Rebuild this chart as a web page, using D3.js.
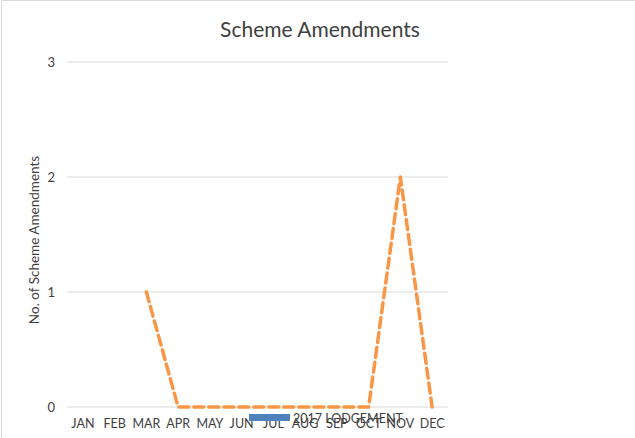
<!DOCTYPE html>
<html>
<head>
<meta charset="utf-8">
<script src="https://cdn.jsdelivr.net/npm/d3@7"></script>
<style>
  html, body { margin: 0; padding: 0; background: #fff; }
  svg { display: block; font-family: Lato, "Open Sans", sans-serif; }
</style>
</head>
<body>
<svg id="chart" width="635" height="438"></svg>
<script>
const months = ["JAN","FEB","MAR","APR","MAY","JUN","JUL","AUG","SEP","OCT","NOV","DEC"];
const lodgement2017 = [0,0,0,0,0,0,0,0,0,0,0,0];
const amendments = [null,null,1,0,0,0,0,0,0,0,2,0];
const yTicks = [0,1,2,3];
const title = "Scheme Amendments";
const yTitle = "No. of Scheme Amendments";
const legendLabel = "2017 LODGEMENT";

const svg = d3.select("#chart");
const m = {left: 67, right: 448, top: 62, bottom: 407};

svg.append("rect").attr("x", 1.5).attr("y", 0.5).attr("width", 640).attr("height", 445)
  .attr("fill", "none").attr("stroke", "#d9d9d9");

const x = d3.scaleBand().domain(months).range([m.left, m.right]);
const y = d3.scaleLinear().domain([0, 3]).range([m.bottom, m.top]);

// gridlines
svg.append("g").selectAll("line").data(yTicks).join("line")
  .attr("x1", m.left).attr("x2", m.right)
  .attr("y1", d => y(d)).attr("y2", d => y(d))
  .attr("stroke", "#d9d9d9").attr("stroke-width", 1);

// y axis labels
const yAxis = svg.append("g").attr("transform", `translate(${m.left},0)`)
  .call(d3.axisLeft(y).tickValues(yTicks).tickFormat(d3.format("d")).tickSize(0).tickPadding(12));
yAxis.select(".domain").remove();
yAxis.selectAll("text").attr("font-size", 13).attr("fill", "#404040").attr("font-family", "Lato, sans-serif");

// x axis labels
const xAxis = svg.append("g").attr("transform", `translate(0,${m.bottom})`)
  .call(d3.axisBottom(x).tickSize(0).tickPadding(12));
xAxis.select(".domain").remove();
xAxis.selectAll("text").attr("font-size", 12.5).attr("fill", "#404040").attr("font-family", "Lato, sans-serif");

// bars (2017 lodgement)
svg.append("g").selectAll("rect").data(months).join("rect")
  .attr("x", (d) => x(d) + x.bandwidth() * 0.2)
  .attr("width", x.bandwidth() * 0.6)
  .attr("y", (d, i) => y(lodgement2017[i]))
  .attr("height", (d, i) => y(0) - y(lodgement2017[i]))
  .attr("fill", "#4f81bd");

// dashed line
const line = d3.line()
  .defined(d => d.v !== null)
  .x(d => x(d.m) + x.bandwidth() / 2)
  .y(d => y(d.v));
svg.append("path")
  .datum(months.map((mm, i) => ({m: mm, v: amendments[i]})))
  .attr("d", line)
  .attr("fill", "none")
  .attr("stroke", "#f79646")
  .attr("stroke-width", 3.5)
  .attr("stroke-dasharray", "10,5")
  .attr("stroke-linecap", "round")
  .attr("stroke-linejoin", "round");

// title
svg.append("text").attr("x", 320).attr("y", 37).attr("text-anchor", "middle")
  .attr("font-size", 21).attr("fill", "#404040").text(title);

// y title
svg.append("text").attr("transform", "translate(39,240) rotate(-90)")
  .attr("text-anchor", "middle").attr("font-size", 13.5).attr("fill", "#404040").text(yTitle);

// legend
svg.append("rect").attr("x", 249).attr("y", 414).attr("width", 41).attr("height", 7).attr("fill", "#4f81bd");
svg.append("text").attr("x", 293).attr("y", 423).attr("font-size", 12.5).attr("fill", "#404040").text(legendLabel);
</script>
</body>
</html>
